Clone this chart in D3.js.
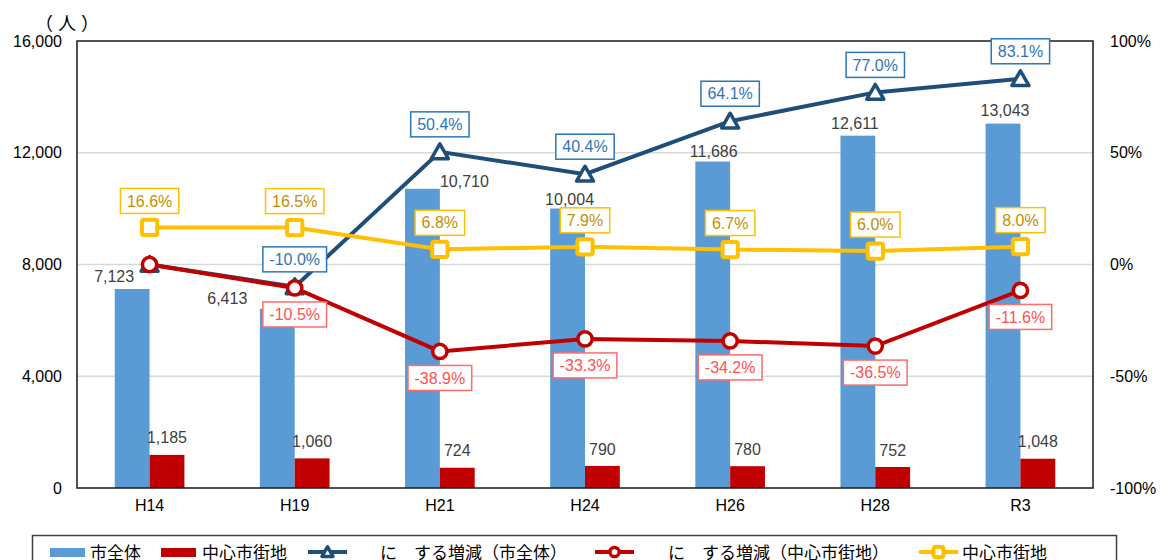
<!DOCTYPE html>
<html lang="ja">
<head>
<meta charset="utf-8">
<style>
body { margin: 0; background: #fff; }
svg text { font-family: "Liberation Sans", Arial, "Noto Sans CJK JP", sans-serif; }
.jp { font-family: "Noto Sans CJK JP", sans-serif; }
</style>
</head>
<body>
<svg width="1160" height="560"></svg>
<script src="https://cdn.jsdelivr.net/npm/d3@7"></script>
<script>
var categories = ["H14", "H19", "H21", "H24", "H26", "H28", "R3"];
var cityTotal = [7123, 6413, 10710, 10004, 11686, 12611, 13043];
var centralArea = [1185, 1060, 724, 790, 780, 752, 1048];
var cityChange = [0, -10.0, 50.4, 40.4, 64.1, 77.0, 83.1];
var centralChange = [0, -10.5, -38.9, -33.3, -34.2, -36.5, -11.6];
var centralShare = [16.6, 16.5, 6.8, 7.9, 6.7, 6.0, 8.0];
var leftTicks = [0, 4000, 8000, 12000, 16000];
var rightTicks = [-100, -50, 0, 50, 100];

// hand-moved bar labels (dx, dy) as in the original
var cityLabelNudge = [[-18, -1], [-50, 2], [42, 5], [2, 2.5], [1, 1.5], [-3, 0], [2, -1.5]];

var svg = d3.select("svg"),
    margin = {top: 41, right: 67, bottom: 72, left: 77},
    width = 1160 - margin.left - margin.right,
    height = 560 - margin.top - margin.bottom,
    g = svg.append("g").attr("transform", "translate(" + margin.left + "," + margin.top + ")");

var x = d3.scaleBand().domain(categories).range([0, width]).padding(0);
var yL = d3.scaleLinear().domain([0, 16000]).range([height, 0]);
var yR = d3.scaleLinear().domain([-100, 100]).range([height, 0]);
var bw = x.bandwidth() * 0.24;
function cx(i) { return x(categories[i]) + x.bandwidth() / 2; }
var fmt = d3.format(",");

// gridlines
g.append("g").selectAll("line")
  .data(leftTicks.filter(function(t) { return t > 0 && t < 16000; }))
  .enter().append("line")
    .attr("x1", 0).attr("x2", width)
    .attr("y1", function(d) { return yL(d); }).attr("y2", function(d) { return yL(d); })
    .attr("stroke", "#d9d9d9").attr("stroke-width", 1.5);

// bars
g.append("g").selectAll("rect")
  .data(cityTotal)
  .enter().append("rect")
    .attr("x", function(d, i) { return cx(i) - bw; })
    .attr("y", function(d) { return yL(d); })
    .attr("width", bw)
    .attr("height", function(d) { return height - yL(d); })
    .attr("fill", "#5b9bd5");
g.append("g").selectAll("rect")
  .data(centralArea)
  .enter().append("rect")
    .attr("x", function(d, i) { return cx(i); })
    .attr("y", function(d) { return yL(d); })
    .attr("width", bw)
    .attr("height", function(d) { return height - yL(d); })
    .attr("fill", "#c00000");

// frame
g.append("rect").attr("width", width).attr("height", height)
  .attr("fill", "none").attr("stroke", "#1a1a1a").attr("stroke-width", 1.5);

// axes
var axL = g.append("g").call(d3.axisLeft(yL).tickValues(leftTicks).tickFormat(fmt).tickSize(0).tickPadding(15));
var axR = g.append("g").attr("transform", "translate(" + width + ",0)")
  .call(d3.axisRight(yR).tickValues(rightTicks).tickFormat(function(d) { return d + "%"; }).tickSize(0).tickPadding(17));
var axB = g.append("g").attr("transform", "translate(0," + height + ")")
  .call(d3.axisBottom(x).tickSize(0).tickPadding(12));
[axL, axR, axB].forEach(function(a) {
  a.select(".domain").remove();
  a.selectAll("text").attr("font-size", 16).attr("fill", "#000")
    .attr("font-family", "'Liberation Sans', Arial, sans-serif");
});

svg.append("text").attr("class", "jp").attr("x", 35).attr("y", 24).attr("dy", "0.35em")
  .attr("font-size", 18).attr("fill", "#000")
  .attr("textLength", 64).attr("lengthAdjust", "spacing").text("（人）");

// lines
var series = [
  {vals: cityChange, color: "#1f4e79", shape: "tri"},
  {vals: centralChange, color: "#c00000", shape: "circle"},
  {vals: centralShare, color: "#ffc000", shape: "square"}
];
var line = d3.line().x(function(d, i) { return cx(i); }).y(function(d) { return yR(d); });

function marker(sel, shape, color, s) {
  if (shape === "tri") {
    sel.append("path").attr("d", "M0," + (-s * 0.47) + "L" + (s * 0.5) + "," + (s * 0.4) + "L" + (-s * 0.5) + "," + (s * 0.4) + "Z")
      .attr("fill", "#fff").attr("stroke", color).attr("stroke-width", 3.5).attr("stroke-linejoin", "round");
  } else if (shape === "circle") {
    sel.append("circle").attr("r", s * 0.42).attr("fill", "#fff").attr("stroke", color).attr("stroke-width", 3.5);
  } else {
    sel.append("rect").attr("x", -s * 0.45).attr("y", -s * 0.45).attr("width", s * 0.9).attr("height", s * 0.9)
      .attr("rx", 2).attr("fill", "#fff").attr("stroke", color).attr("stroke-width", 4);
  }
}

series.forEach(function(s) {
  g.append("path").datum(s.vals).attr("d", line)
    .attr("fill", "none").attr("stroke", s.color).attr("stroke-width", 4);
  s.vals.forEach(function(v, i) {
    var m = g.append("g").attr("transform", "translate(" + cx(i) + "," + yR(v) + ")");
    marker(m, s.shape, s.color, 17);
  });
});

// bar value labels
g.append("g").selectAll("text")
  .data(cityTotal)
  .enter().append("text")
    .attr("x", function(d, i) { return cx(i) - bw / 2 + cityLabelNudge[i][0]; })
    .attr("y", function(d, i) { return yL(d) - 12 + cityLabelNudge[i][1]; })
    .attr("dy", "0.35em").attr("text-anchor", "middle")
    .attr("font-size", 16).attr("fill", "#404040")
    .text(function(d) { return fmt(d); });
g.append("g").selectAll("text")
  .data(centralArea)
  .enter().append("text")
    .attr("x", function(d, i) { return cx(i) + bw / 2; })
    .attr("y", function(d) { return yL(d) - 17; })
    .attr("dy", "0.35em").attr("text-anchor", "middle")
    .attr("font-size", 16).attr("fill", "#404040")
    .text(function(d) { return fmt(d); });

// percentage boxes
var boxes = [
  {vals: cityChange, off: -27.5, text: "#2e75b6", border: "#2e75b6", skipFirst: true},
  {vals: centralChange, off: 26.5, text: "#ff5050", border: "#ff6b6b", skipFirst: true},
  {vals: centralShare, off: -26.5, text: "#bf9000", border: "#ffc000", skipFirst: false}
];
boxes.forEach(function(b) {
  b.vals.forEach(function(v, i) {
    if (b.skipFirst && i === 0) return;
    var lg = g.append("g").attr("transform", "translate(" + cx(i) + "," + (yR(v) + b.off) + ")");
    var t = lg.append("text").attr("dy", "0.35em").attr("text-anchor", "middle")
      .attr("font-size", 16).attr("fill", b.text).text(v.toFixed(1) + "%");
    var w = t.node().getComputedTextLength() + 13;
    lg.insert("rect", "text").attr("x", -w / 2).attr("y", -12.5).attr("width", w).attr("height", 25)
      .attr("fill", "#fff").attr("stroke", b.border).attr("stroke-width", 1.5);
  });
});

// legend
var legend = svg.append("g");
legend.append("rect").attr("x", 32.5).attr("y", 535.5).attr("width", 1084).attr("height", 40)
  .attr("fill", "#fff").attr("stroke", "#404040").attr("stroke-width", 1.5);
var legItems = [
  {kind: "bar", color: "#5b9bd5", x: 50, tx: 90, label: "市全体"},
  {kind: "bar", color: "#c00000", x: 161, tx: 202, label: "中心市街地"},
  {kind: "tri", color: "#1f4e79", x: 308, tx: 380, label: "に　する増減（市全体）"},
  {kind: "circle", color: "#c00000", x: 595, tx: 668, label: "に　する増減（中心市街地）"},
  {kind: "square", color: "#ffc000", x: 919, tx: 962, label: "中心市街地"}
];
legItems.forEach(function(d) {
  if (d.kind === "bar") {
    legend.append("rect").attr("x", d.x).attr("y", 548).attr("width", 35).attr("height", 9).attr("fill", d.color);
  } else {
    legend.append("line").attr("x1", d.x).attr("x2", d.x + 39).attr("y1", 552).attr("y2", 552)
      .attr("stroke", d.color).attr("stroke-width", 4);
    var m = legend.append("g").attr("transform", "translate(" + (d.x + 19.5) + ",552)");
    marker(m, d.kind, d.color, 11);
  }
  legend.append("text").attr("class", "jp").attr("x", d.tx).attr("y", 559)
    .attr("font-size", 17).attr("fill", "#000")
    .attr("textLength", d.label.length * 17).attr("lengthAdjust", "spacing")
    .text(d.label);
});
</script>
</body>
</html>
